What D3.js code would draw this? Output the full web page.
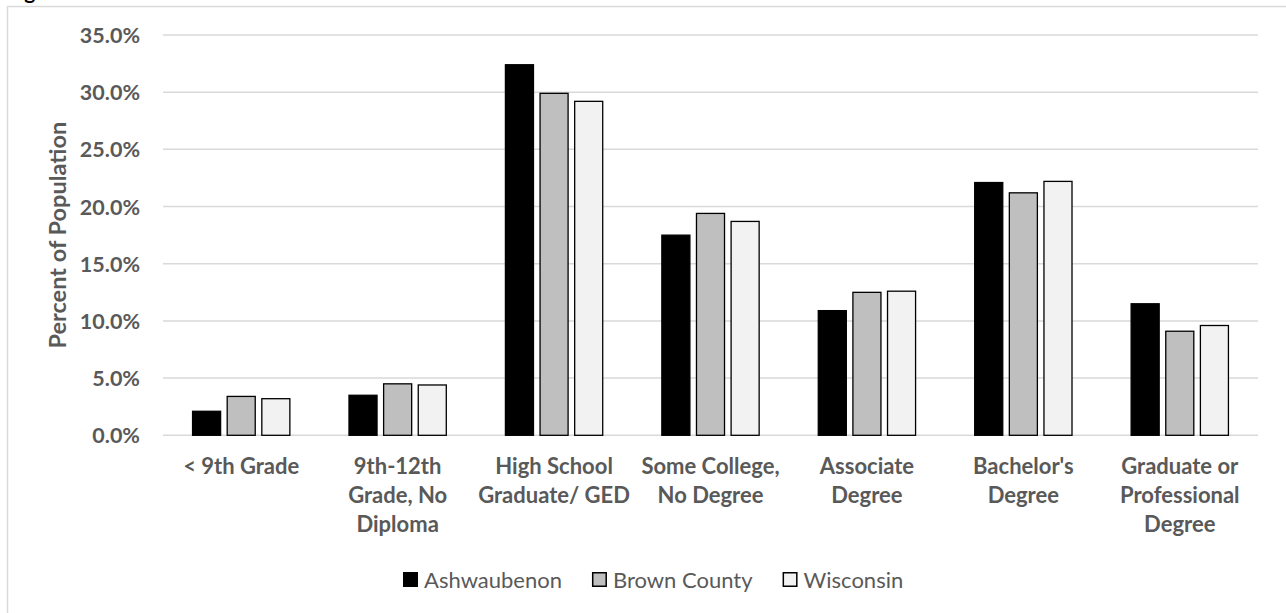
<!DOCTYPE html>
<html>
<head>
<meta charset="utf-8">
<script src="https://cdn.jsdelivr.net/npm/d3@7/dist/d3.min.js"></script>
<style>
  html, body { margin: 0; padding: 0; background: #fff; }
  svg { display: block; }
</style>
</head>
<body>
<svg id="chart" width="1286" height="613"></svg>
<script>
const categories = [
  ["< 9th Grade"],
  ["9th-12th", "Grade, No", "Diploma"],
  ["High School", "Graduate/ GED"],
  ["Some College,", "No Degree"],
  ["Associate", "Degree"],
  ["Bachelor's", "Degree"],
  ["Graduate or", "Professional", "Degree"]
];
const seriesNames = ["Ashwaubenon", "Brown County", "Wisconsin"];
const ashwaubenon = [2.1, 3.5, 32.4, 17.5, 10.9, 22.1, 11.5];
const brownCounty = [3.4, 4.5, 29.9, 19.4, 12.5, 21.2, 9.1];
const wisconsin   = [3.2, 4.4, 29.2, 18.7, 12.6, 22.2, 9.6];
const yTicks = [0, 5, 10, 15, 20, 25, 30, 35];
const yAxisTitle = "Percent of Population";

const seriesValues = [ashwaubenon, brownCounty, wisconsin];
const fills = ["#000000", "#bfbfbf", "#f2f2f2"];
const textColor = "#595959";
const font = "Lato, 'Open Sans', sans-serif";

const svg = d3.select("#chart");

// outer frame
svg.append("rect")
  .attr("x", 7.5).attr("y", 6.5)
  .attr("width", 1290).attr("height", 620)
  .attr("fill", "none").attr("stroke", "#d9d9d9").attr("stroke-width", 1.5);

// cropped title fragment at top (cut off in the reference as well)
svg.append("text")
  .attr("x", 7).attr("y", -1)
  .attr("font-family", font).attr("font-weight", 700).attr("font-size", 21)
  .attr("fill", "#000").text("Figure");

const plotLeft = 163, plotRight = 1258, plotTop = 35, plotBottom = 435.3;
const catKeys = categories.map(c => c.join(" "));

const x0 = d3.scaleBand().domain(catKeys).range([plotLeft, plotRight]).paddingInner(0).paddingOuter(0);
const groupWidth = 97.3;
const x1 = d3.scaleBand().domain(seriesNames).range([0, groupWidth]).paddingInner(0.19).paddingOuter(0);
const y = d3.scaleLinear().domain([0, 35]).range([plotBottom, plotTop]);

// gridlines
svg.append("g").selectAll("line").data(yTicks).join("line")
  .attr("x1", plotLeft).attr("x2", plotRight)
  .attr("y1", d => y(d)).attr("y2", d => y(d))
  .attr("stroke", "#d9d9d9").attr("stroke-width", 1.5);

// y axis labels
const yAxis = d3.axisLeft(y).tickValues(yTicks).tickFormat(d => d3.format(".1f")(d) + "%").tickSize(0).tickPadding(0);
const yg = svg.append("g").attr("transform", `translate(140,0)`).call(yAxis);
yg.select(".domain").remove();
yg.selectAll("text")
  .attr("font-family", font).attr("font-weight", 700).attr("font-size", 21.5)
  .attr("fill", textColor).attr("dy", "0.35em");

// y axis title
svg.append("text")
  .attr("transform", `translate(66,${(plotTop + plotBottom) / 2}) rotate(-90)`)
  .attr("text-anchor", "middle")
  .attr("font-family", font).attr("font-weight", 700).attr("font-size", 23.5)
  .attr("fill", textColor).text(yAxisTitle);

// bars
const groups = svg.append("g").selectAll("g").data(catKeys).join("g")
  .attr("transform", d => `translate(${x0(d) + x0.bandwidth() / 2 - groupWidth / 2},0)`);
groups.selectAll("rect")
  .data((d, i) => seriesNames.map((s, j) => ({ s, j, v: seriesValues[j][i] })))
  .join("rect")
  .attr("x", d => x1(d.s))
  .attr("width", x1.bandwidth())
  .attr("y", d => y(d.v))
  .attr("height", d => plotBottom - y(d.v))
  .attr("fill", d => fills[d.j])
  .attr("stroke", "#000").attr("stroke-width", 1.3);

// x axis labels
const xl = svg.append("g").selectAll("text").data(categories).join("text")
  .attr("x", (d, i) => x0(catKeys[i]) + x0.bandwidth() / 2)
  .attr("y", 474)
  .attr("text-anchor", "middle")
  .attr("font-family", font).attr("font-weight", 700).attr("font-size", 22)
  .attr("fill", textColor);
xl.each(function(lines) {
  const t = d3.select(this);
  const cx = t.attr("x");
  lines.forEach((ln, k) => {
    t.append("tspan").attr("x", cx).attr("dy", k === 0 ? 0 : 29).text(ln);
  });
});

// legend
const legend = svg.append("g");
let lx = 403;
seriesNames.forEach((s, j) => {
  legend.append("rect")
    .attr("x", lx + 0.75).attr("y", 572.75).attr("width", 13.5).attr("height", 13.5)
    .attr("fill", fills[j]).attr("stroke", "#000").attr("stroke-width", 1.5);
  const t = legend.append("text")
    .attr("x", lx + 21).attr("y", 587.5)
    .attr("font-family", font).attr("font-size", 22)
    .attr("fill", textColor).text(s);
  lx = lx + 21 + t.node().getComputedTextLength() + 30;
});
</script>
</body>
</html>
